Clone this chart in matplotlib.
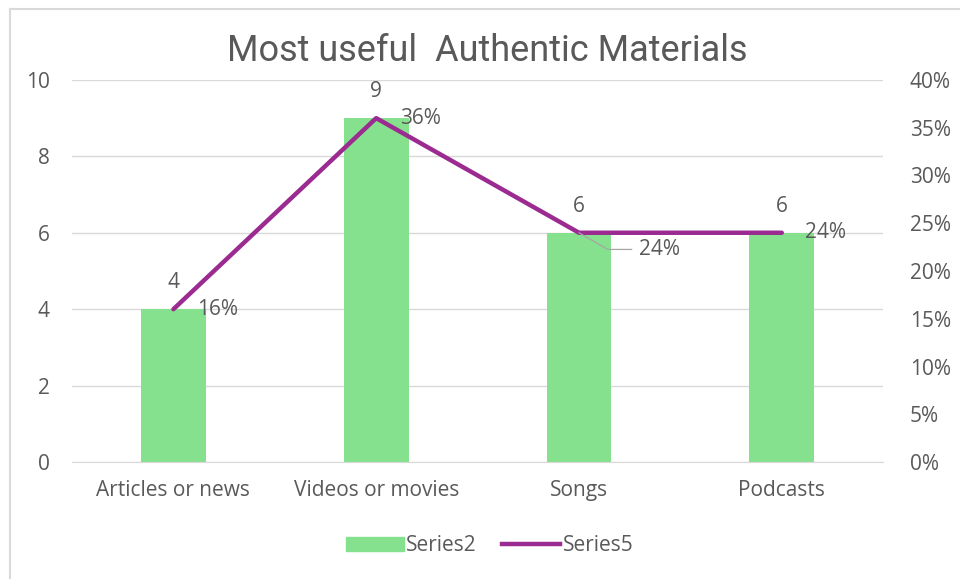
import matplotlib.pyplot as plt
from matplotlib.lines import Line2D
from matplotlib.patches import Patch

categories = ['Articles or news', 'Videos or movies', 'Songs', 'Podcasts']
counts = [4, 9, 6, 6]            # Series2 (bars, left axis)
shares = [0.16, 0.36, 0.24, 0.24]  # Series5 (line, right axis)

bar_color = '#86E18E'
line_color = '#9B2A91'
text_color = '#595959'
grid_color = '#D9D9D9'

plt.rcParams['font.family'] = ['Open Sans', 'DejaVu Sans']
fs = 15

fig = plt.figure(figsize=(9.6, 5.79), dpi=100)
ax = fig.add_axes([0.075, 0.202, 0.845, 0.66])
ax2 = ax.twinx()

x = list(range(len(categories)))
ax.bar(x, counts, width=0.32, color=bar_color, zorder=2)
ax2.plot(x, shares, color=line_color, lw=3.2, solid_capstyle='round', zorder=3)

ax.set_xlim(-0.5, 3.5)
ax.set_ylim(0, 10)
ax2.set_ylim(0, 0.4)
ax.set_yticks(range(0, 11, 2))
ax2.set_yticks([i * 0.05 for i in range(9)])
ax2.set_yticklabels(['%d%%' % round(v * 100) for v in ax2.get_yticks()])
ax.set_xticks(x)
ax.set_xticklabels(categories)

ax.grid(axis='y', color=grid_color, lw=1, zorder=0)
for a in (ax, ax2):
    for s in a.spines.values():
        s.set_visible(False)
    a.tick_params(length=0, labelsize=fs, colors=text_color)
ax.tick_params(axis='y', pad=16)
ax2.tick_params(axis='y', pad=19)
ax.tick_params(axis='x', pad=13)
ax.spines['bottom'].set_visible(True)
ax.spines['bottom'].set_color(grid_color)

# value labels over the bars
for xi, c in zip(x, counts):
    ax.annotate(str(c), (xi, c), xytext=(0, 19), textcoords='offset points',
                ha='center', va='center', fontsize=fs, color=text_color)

# percentage labels next to the line points
for xi, s in zip(x, shares):
    if xi == 2:
        ax2.annotate('%d%%' % round(s * 100), (xi, s), xytext=(43, -12),
                     textcoords='offset points', ha='left', va='center',
                     fontsize=fs, color=text_color,
                     arrowprops=dict(arrowstyle='-', color='#A6A6A6', lw=0.9,
                                     shrinkA=3, shrinkB=0,
                                     connectionstyle='angle,angleA=0,angleB=-30,rad=0'))
    else:
        ax2.annotate('%d%%' % round(s * 100), (xi, s), xytext=(17, 0),
                     textcoords='offset points', ha='left', va='center',
                     fontsize=fs, color=text_color)

fig.text(0.508, 0.912, 'Most useful  Authentic Materials', ha='center', va='center',
         fontsize=26, color=text_color, family=['Roboto', 'DejaVu Sans'])

handles = [Patch(color=bar_color), Line2D([], [], color=line_color, lw=3.2)]
fig.legend(handles, ['Series2', 'Series5'], loc='center', bbox_to_anchor=(0.51, 0.057),
           ncol=2, frameon=False, fontsize=fs, labelcolor=text_color,
           handlelength=2.8, handletextpad=0.1, columnspacing=1.2)

# chart area outline
fig.add_artist(Line2D([0.01, 1.0], [0.985, 0.985], color=grid_color, lw=1.5,
                      transform=fig.transFigure))
fig.add_artist(Line2D([0.01, 0.01], [0.0, 0.985], color=grid_color, lw=1.5,
                      transform=fig.transFigure))

fig.savefig('out.png', dpi=100)
